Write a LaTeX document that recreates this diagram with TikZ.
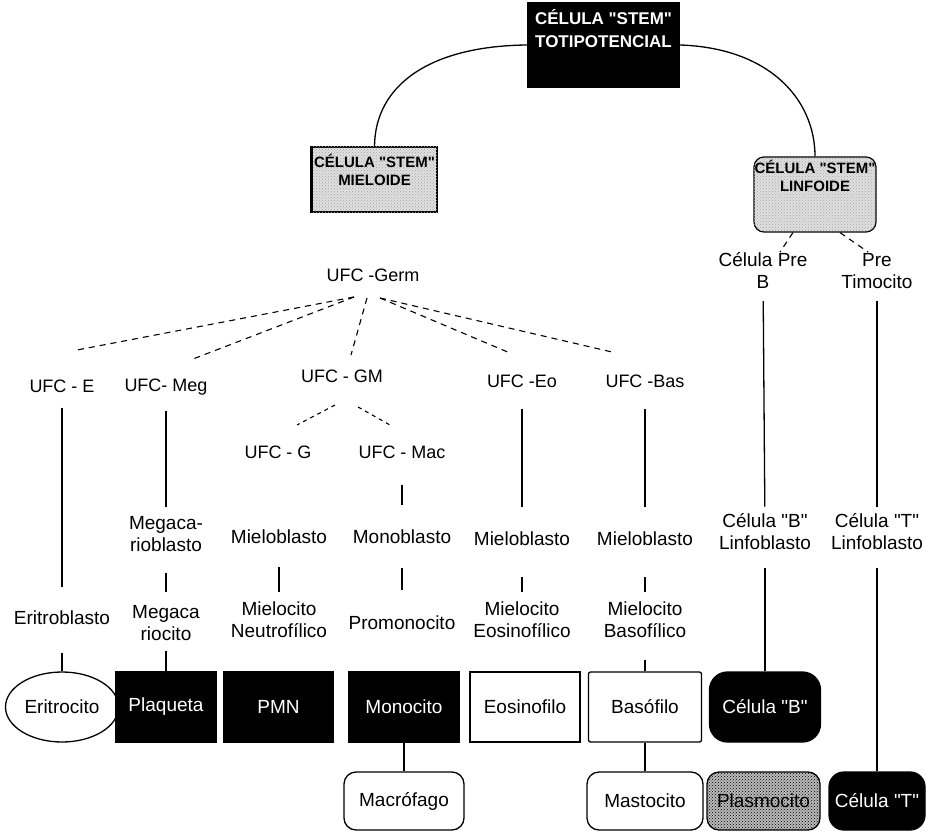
\documentclass[tikz,border=0pt]{standalone}
\usepackage{fontspec}
\setmainfont{Liberation Sans}[Ligatures=TeXOff]
\usetikzlibrary{patterns,shapes.geometric}
\begin{document}
\begin{tikzpicture}[x=1pt,y=-1pt,
  lbl/.style={font=\fontsize{19}{22}\selectfont, align=center, inner sep=2pt},
  ufc/.style={font=\fontsize{18}{22}\selectfont, inner sep=2pt},
  conn/.style={line width=1.3pt},
  dashconn/.style={line width=1.1pt, dash pattern=on 6pt off 5pt},
  cell/.style={font=\fontsize{19}{22}\selectfont, minimum height=70pt, inner sep=0pt, line width=1.3pt},
  blackcell/.style={cell, fill=black, draw=black, text=white},
  whitecell/.style={cell, fill=white, draw=black},
  stipple/.style={fill=gray!25, postaction={pattern=crosshatch dots, pattern color=gray!70}},
  stemlbl/.style={font=\bfseries\fontsize{15}{18}\selectfont, align=center, inner sep=1pt},
]
\useasboundingbox (0,0) rectangle (926,832);

% ---- stem cells ----
\node[fill=black, minimum width=153pt, minimum height=86pt, inner sep=0pt] (tot) at (603.5,45) {};
\node[font=\bfseries\fontsize{17}{23}\selectfont, text=white, align=center] (totlbl) at (603.5,29) {CÉLULA "STEM"\\TOTIPOTENCIAL};

\node[draw, stipple, line width=1.2pt, minimum width=125pt, minimum height=65pt, inner sep=0pt] (mie) at (374.5,179.5) {};
\draw[line width=3pt] (mie.north west) -- (mie.south west);
\node[stemlbl] (mielbl) at (374.5,170) {CÉLULA "STEM"\\MIELOIDE};

\node[draw, stipple, rounded corners=10pt, line width=1.2pt, minimum width=122pt, minimum height=75pt, inner sep=0pt] (lin) at (815,194.5) {};
\node[stemlbl] (linlbl) at (815,176) {CÉLULA "STEM"\\LINFOIDE};

\draw[conn] (tot.west) .. controls (430,46) and (375,85) .. (mie.north);
\draw[conn] (tot.east) .. controls (770,48) and (815,100) .. (lin.north);

% ---- lymphoid branch ----
\node[lbl] (preB) at (763,271) {Célula Pre\\B};
\node[lbl] (preT) at (877,271) {Pre\\Timocito};
\coordinate (preBtop) at (780,252);
\coordinate (preTtop) at (868,252);
\draw[dashconn] ([xshift=-22pt]lin.south) -- (preBtop);
\draw[dashconn] ([xshift=25pt]lin.south) -- (preTtop);

% ---- myeloid progenitors ----
\node[ufc] (germ) at (373,275) {UFC -Germ};
\coordinate (fanL) at (354,297);
\coordinate (fanM) at (367,298);
\coordinate (fanR) at (380,298);
\coordinate (fE) at (77,350);
\coordinate (fMeg) at (193,359);
\coordinate (fGM) at (351,355);
\coordinate (fEo) at (510,353);
\coordinate (fBas) at (612,352);
\draw[dashconn] (fanL) -- (fE);
\draw[dashconn] (fanL) -- (fMeg);
\draw[dashconn] (fanM) -- (fGM);
\draw[dashconn] (fanR) -- (fEo);
\draw[dashconn] (fanR) -- (fBas);

\node[ufc] (ufcE) at (62,386) {UFC - E};
\node[ufc] (ufcMeg) at (166,387) {UFC- Meg};
\node[ufc] (ufcGM) at (342,376) {UFC - GM};
\node[ufc] (ufcEo) at (522,381) {UFC -Eo};
\node[ufc] (ufcBas) at (645,381) {UFC -Bas};
\node[ufc] (ufcG) at (278,452) {UFC - G};
\node[ufc] (ufcMac) at (402,452) {UFC - Mac};

\coordinate (gA) at (335,405);
\coordinate (gB) at (297,425);
\coordinate (gC) at (358,407);
\coordinate (gD) at (390,425);
\draw[dashconn, dash pattern=on 4pt off 4pt] (gA) -- (gB);
\draw[dashconn, dash pattern=on 4pt off 4pt] (gC) -- (gD);

% ---- blasts ----
\node[lbl] (megabl) at (166,534) {Megaca-\\rioblasto};
\node[lbl] (mieloG) at (279,537) {Mieloblasto};
\node[lbl] (monobl) at (402,537) {Monoblasto};
\node[lbl] (mieloEo) at (522,539) {Mieloblasto};
\node[lbl] (mieloBas) at (645,539) {Mieloblasto};
\node[lbl] (blinf) at (765,532) {Célula "B"\\Linfoblasto};
\node[lbl] (tlinf) at (877,532) {Célula "T"\\Linfoblasto};

% ---- intermediate stages ----
\node[lbl] (eritrobl) at (62,618) {Eritroblasto};
\node[lbl] (megaci) at (166,623) {Megaca\\riocito};
\node[lbl] (mielociN) at (279,620) {Mielocito\\Neutrofílico};
\node[lbl] (promono) at (402,623) {Promonocito};
\node[lbl] (mielociEo) at (522,620) {Mielocito\\Eosinofílico};
\node[lbl] (mielociBas) at (645,620) {Mielocito\\Basofílico};

% ---- mature cells ----
\node[ellipse, whitecell, minimum width=113pt] (eritrocito) at (62,707) {Eritrocito};
\node[blackcell, minimum width=101pt] (plaq) at (166,707) {Plaqueta};
\node[blackcell, minimum width=109pt] (pmn) at (278.5,707) {PMN};
\node[blackcell, minimum width=110pt] (mono) at (404,707) {Monocito};
\node[whitecell, minimum width=110pt] (eos) at (525,707) {Eosinofilo};
\node[whitecell, rounded corners=2pt, minimum width=113pt] (baso) at (645,707) {Basófilo};
\node[blackcell, rounded corners=18pt, minimum width=111pt] (celB) at (765,707) {Célula "B"};

\node[whitecell, rounded corners=12pt, minimum width=120pt, minimum height=58pt] (macro) at (404,801) {Macrófago};
\node[whitecell, rounded corners=12pt, minimum width=116pt, minimum height=58pt] (masto) at (645,801) {Mastocito};
\node[cell, draw=black, rounded corners=12pt, fill=gray!55, postaction={pattern=crosshatch dots, pattern color=black}, minimum width=113pt, minimum height=58pt] (plasmo) at (763.5,801) {Plasmocito};
\node[blackcell, rounded corners=15pt, minimum width=96pt, minimum height=58pt] (celT) at (877,801) {Célula "T"};

% ---- lineage connectors ----
\draw[conn, shorten <=13pt, shorten >=22pt] (ufcE) -- (eritrobl);
\draw[conn, shorten <=26pt] (eritrobl) -- (eritrocito);

\draw[conn, shorten <=14pt, shorten >=7pt] (ufcMeg) -- (megabl);
\draw[conn, shorten <=19pt, shorten >=11pt] (megabl) -- (megaci);
\draw[conn, shorten <=8pt] (megaci) -- (plaq);

\draw[conn, shorten <=21pt, shorten >=8pt] (mieloG) -- (mielociN);

\draw[conn, shorten <=24pt, shorten >=23pt] (ufcMac) -- (monobl);
\draw[conn, shorten <=22pt, shorten >=24pt] (monobl) -- (promono);
\draw[conn] (mono) -- (macro);

\draw[conn, shorten <=19pt, shorten >=23pt] (ufcEo) -- (mieloEo);
\draw[conn, shorten <=29pt, shorten >=8pt] (mieloEo) -- (mielociEo);

\draw[conn, shorten <=19pt, shorten >=23pt] (ufcBas) -- (mieloBas);
\draw[conn, shorten <=29pt, shorten >=8pt] (mieloBas) -- (mielociBas);
\draw[conn, shorten <=20pt] (mielociBas) -- (baso);
\draw[conn] (baso) -- (masto);

\draw[conn, shorten <=10pt, shorten >=5pt] (preB) -- (blinf);
\draw[conn, shorten <=16pt] (blinf) -- (celB);
\draw[conn, shorten <=10pt, shorten >=5pt] (preT) -- (tlinf);
\draw[conn, shorten <=16pt] (tlinf) -- (celT);
\end{tikzpicture}
\end{document}
